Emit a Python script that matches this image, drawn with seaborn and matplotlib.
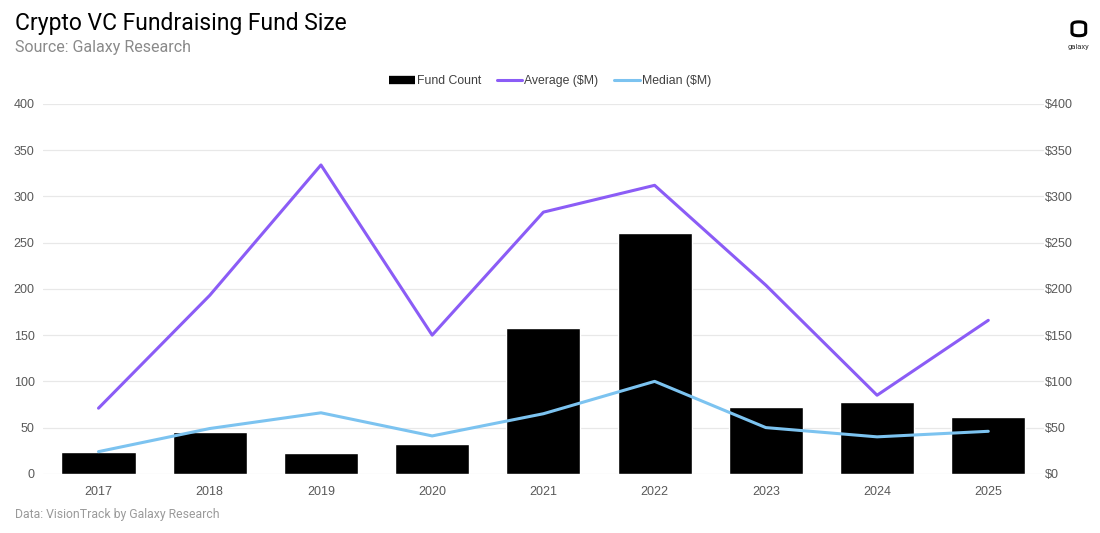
import numpy as np
import pandas as pd
import matplotlib
matplotlib.use("Agg")
import matplotlib.pyplot as plt
import seaborn as sns
from matplotlib.lines import Line2D
from matplotlib.patches import FancyBboxPatch

years = ["2017", "2018", "2019", "2020", "2021", "2022", "2023", "2024", "2025"]
fund_count = [24, 45, 22, 32, 158, 260, 72, 78, 62]
average_m = [71, 193, 334, 150, 283, 312, 204, 85, 166]
median_m = [24, 49, 66, 41, 65, 100, 50, 40, 46]
left_ticks = [0, 50, 100, 150, 200, 250, 300, 350, 400]
right_tick_labels = ["$0", "$50", "$100", "$150", "$200", "$250", "$300", "$350", "$400"]

sns.set_theme(style="white")
plt.rcParams['font.family'] = ['Liberation Sans', 'DejaVu Sans']

PURPLE = "#8b5cf6"
BLUE = "#7cc3f0"
GRID = "#e8e8e8"
TICK = "#595959"

df = pd.DataFrame({"year": years, "count": fund_count, "avg": average_m, "med": median_m})
df["pos"] = np.arange(len(years))

fig = plt.figure(figsize=(11, 5.33), dpi=100)
ax = fig.add_axes([0.039, 0.111, 0.910, 0.694])

sns.barplot(data=df, x="year", y="count", color="black", saturation=1, width=0.667, ax=ax, zorder=2)
ax.set_xlim(-0.5, len(years) - 0.5)
ax.set_ylim(0, 400)
ax.set_yticks(left_ticks)
ax.set_yticklabels([str(t) for t in left_ticks])
ax.grid(axis="y", color=GRID, linewidth=0.9, zorder=0)
ax.set_axisbelow(True)
ax.set_xlabel("")
ax.set_ylabel("")
for s in ax.spines.values():
    s.set_visible(False)
ax.tick_params(axis="both", length=0, colors=TICK, labelsize=9)
ax.tick_params(axis="x", pad=9)
ax.tick_params(axis="y", pad=6)

ax2 = ax.twinx()
sns.lineplot(data=df, x="pos", y="avg", color=PURPLE, linewidth=2.2, ax=ax2)
sns.lineplot(data=df, x="pos", y="med", color=BLUE, linewidth=2.2, ax=ax2)
ax2.set_ylim(0, 400)
ax2.set_yticks(left_ticks)
ax2.set_yticklabels(right_tick_labels)
ax2.set_xlim(-0.5, len(years) - 0.5)
ax2.set_xlabel("")
ax2.set_ylabel("")
ax2.grid(False)
for s in ax2.spines.values():
    s.set_visible(False)
ax2.tick_params(axis="y", length=0, colors=TICK, labelsize=9, pad=1)

handles = [
    Line2D([0], [0], color="black", linewidth=6, solid_capstyle="butt"),
    Line2D([0], [0], color=PURPLE, linewidth=2.2),
    Line2D([0], [0], color=BLUE, linewidth=2.2),
]
fig.legend(handles, ["Fund Count", "Average ($M)", "Median ($M)"], loc="center",
           bbox_to_anchor=(0.5, 0.848), ncol=3, frameon=False, fontsize=8.8,
           handlelength=2.1, handletextpad=0.15, columnspacing=1.3,
           labelcolor="#404040")

fig.text(0.014, 0.955, "Crypto VC Fundraising Fund Size", fontsize=16.5, color="black",
         family=["Roboto", "DejaVu Sans"], va="center", ha="left")
fig.text(0.014, 0.91, "Source: Galaxy Research", fontsize=11.5, color="#8a8a8a",
         family=["Roboto", "DejaVu Sans"], va="center", ha="left")
fig.text(0.014, 0.034, "Data: VisionTrack by Galaxy Research", fontsize=8.8, color="#9a9a9a",
         family=["Roboto", "DejaVu Sans"], va="center", ha="left")

# logo
logo = FancyBboxPatch((0.9745, 0.933), 0.0125, 0.026, boxstyle="round,pad=0.0,rounding_size=0.006",
                      transform=fig.transFigure, fill=False, edgecolor="black", linewidth=2.2)
fig.patches.append(logo)
fig.text(0.9805, 0.912, "galaxy", fontsize=5.5, color="#333333", ha="center", va="center",
         family=["Roboto", "DejaVu Sans"])

fig.savefig("out.png", dpi=100)
